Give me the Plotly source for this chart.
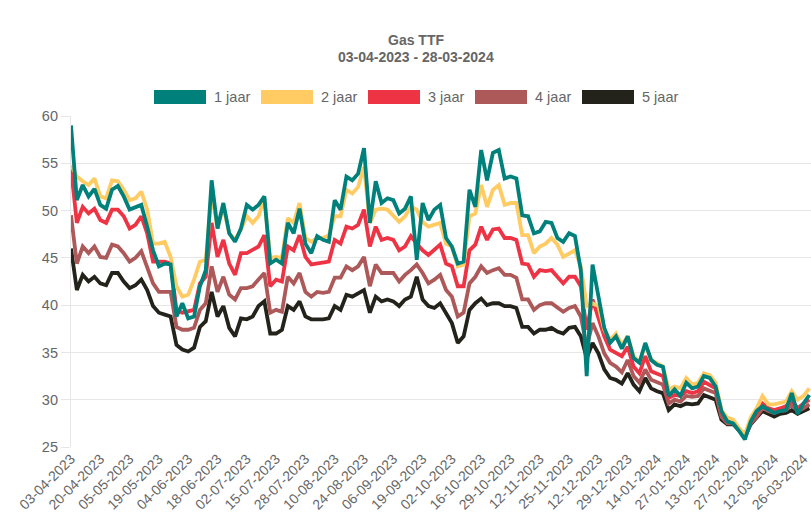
import plotly.graph_objects as go

# ---------------- data ----------------
tick_labels = ["03-04-2023", "20-04-2023", "05-05-2023", "19-05-2023", "04-06-2023",
               "18-06-2023", "02-07-2023", "15-07-2023", "28-07-2023", "10-08-2023",
               "24-08-2023", "06-09-2023", "19-09-2023", "02-10-2023", "16-10-2023",
               "29-10-2023", "12-11-2023", "25-11-2023", "12-12-2023", "29-12-2023",
               "14-01-2024", "27-01-2024", "13-02-2024", "27-02-2024", "12-03-2024",
               "26-03-2024"]
points_per_label = 5

jaar1 = [59.0, 51.1, 52.7, 51.5, 52.3, 50.6, 50.2, 52.2, 52.6, 51.5,
         50.1, 50.4, 50.6, 48.3, 45.8, 44.1, 44.4, 44.3, 38.8, 40.2,
         38.6, 38.8, 42.0, 43.7, 53.2, 48.1, 50.8, 47.6, 46.7, 48.1,
         50.6, 50.1, 50.6, 51.5, 44.4, 44.8, 44.4, 48.7, 47.6, 50.2,
         46.5, 45.5, 47.3, 46.9, 46.7, 51.1, 50.1, 53.6, 53.2, 53.9,
         56.6, 48.7, 53.1, 50.8, 51.3, 51.1, 49.7, 50.2, 51.5, 44.8,
         50.8, 49.0, 50.1, 50.6, 47.1, 46.2, 44.4, 44.6, 52.2, 50.4,
         56.4, 53.2, 56.1, 56.4, 53.4, 53.6, 53.4, 49.5, 49.4, 47.6,
         47.8, 48.8, 48.7, 47.1, 46.7, 47.6, 47.3, 43.7, 32.5, 44.3,
         40.9, 37.6, 36.0, 36.7, 35.4, 36.7, 34.4, 33.9, 36.0, 34.2,
         33.7, 33.5, 30.4, 31.1, 30.4, 31.8, 31.2, 31.4, 32.5, 32.3,
         31.4, 28.8, 27.7, 27.5, 26.7, 25.8, 27.7, 28.8, 29.3, 28.9,
         28.6, 28.8, 28.9, 30.7, 28.5, 29.6, 30.5]

jaar2 = [54.8, 53.6, 53.1, 52.7, 53.4, 51.5, 51.3, 53.2, 53.1, 52.2,
         51.1, 51.3, 52.0, 50.1, 46.5, 46.5, 46.7, 45.1, 42.0, 40.9,
         41.1, 42.7, 44.6, 44.8, 51.8, 48.1, 50.4, 47.6, 46.9, 48.0,
         49.4, 48.7, 49.4, 51.3, 45.0, 45.1, 45.0, 49.2, 48.7, 50.8,
         47.1, 46.7, 47.1, 47.1, 47.4, 49.4, 49.4, 52.2, 51.8, 52.5,
         54.6, 48.7, 50.1, 50.2, 50.1, 49.4, 48.8, 49.4, 50.4, 50.1,
         48.8, 48.3, 48.5, 48.7, 46.5, 46.2, 44.1, 44.3, 49.4, 49.7,
         52.7, 50.4, 52.2, 52.7, 50.6, 50.8, 50.8, 47.4, 47.4, 45.5,
         46.2, 46.5, 47.1, 46.4, 45.1, 45.5, 45.8, 44.1, 39.9, 40.2,
         39.9, 37.4, 36.3, 37.0, 35.8, 36.7, 34.6, 34.0, 35.8, 34.2,
         33.9, 33.5, 31.1, 31.4, 31.2, 32.3, 31.6, 31.8, 32.8, 32.6,
         31.8, 28.9, 28.1, 27.9, 27.0, 26.3, 28.1, 29.1, 30.4, 29.5,
         29.5, 29.6, 29.8, 30.9, 30.0, 30.4, 31.2]

jaar3 = [54.5, 48.7, 50.4, 49.7, 50.2, 49.0, 48.7, 50.1, 50.1, 49.4,
         48.1, 48.5, 49.4, 47.6, 44.6, 44.6, 44.6, 44.4, 39.5, 39.2,
         39.3, 39.5, 42.3, 43.0, 48.7, 45.1, 46.9, 44.4, 43.2, 45.5,
         45.5, 45.8, 46.2, 47.4, 42.0, 42.7, 42.5, 46.2, 45.8, 47.4,
         45.1, 44.3, 44.4, 44.4, 44.6, 46.9, 46.5, 48.3, 48.1, 48.5,
         50.1, 46.2, 48.3, 46.9, 47.1, 46.9, 45.8, 46.2, 47.3, 46.5,
         45.8, 45.3, 45.8, 46.4, 44.4, 44.1, 42.0, 42.0, 45.8, 46.4,
         48.3, 46.9, 48.0, 48.1, 47.1, 47.1, 46.9, 44.4, 44.3, 43.0,
         43.7, 43.6, 43.7, 43.0, 42.3, 43.0, 43.0, 42.0, 37.4, 40.6,
         38.8, 36.7, 35.3, 34.9, 34.6, 35.6, 33.5, 32.8, 34.6, 33.0,
         32.8, 32.5, 30.2, 30.5, 30.4, 30.9, 30.7, 30.9, 31.9, 31.6,
         31.2, 28.6, 27.9, 27.7, 26.8, 26.3, 27.7, 28.6, 29.6, 29.1,
         28.9, 29.1, 29.3, 30.0, 29.1, 29.6, 30.0]

jaar4 = [49.5, 44.4, 46.2, 45.5, 46.2, 45.1, 45.0, 46.4, 46.2, 45.5,
         44.6, 45.0, 45.7, 44.1, 42.3, 41.4, 41.4, 41.4, 37.7, 37.4,
         37.4, 37.6, 39.5, 40.2, 44.1, 41.4, 43.0, 41.1, 40.6, 41.8,
         41.8, 42.0, 42.7, 43.4, 39.2, 39.5, 39.3, 43.0, 42.3, 43.4,
         41.4, 40.9, 41.4, 41.3, 41.4, 42.9, 42.9, 44.1, 43.7, 44.1,
         45.1, 42.0, 44.3, 43.4, 43.4, 43.4, 42.5, 43.2, 43.7, 44.3,
         43.4, 42.3, 42.7, 43.2, 41.6, 40.9, 38.8, 39.2, 42.3, 43.0,
         44.1, 43.4, 43.7, 43.9, 43.2, 43.2, 42.9, 40.6, 40.6, 39.5,
         40.0, 40.2, 40.2, 39.7, 39.3, 39.7, 39.9, 38.8, 35.6, 38.1,
         36.7, 34.9, 33.9, 33.5, 32.9, 34.2, 32.5, 31.8, 33.2, 32.1,
         31.8, 31.6, 29.6, 30.0, 29.8, 30.4, 30.3, 30.4, 31.2, 30.9,
         30.7, 28.2, 27.5, 27.5, 26.8, 26.3, 27.5, 28.2, 29.1, 28.8,
         28.6, 28.8, 28.9, 29.5, 28.8, 29.1, 29.5]

jaar5 = [46.0, 41.6, 43.2, 42.5, 43.0, 42.3, 42.1, 43.4, 43.4, 42.5,
         41.8, 42.1, 42.7, 41.6, 39.9, 39.2, 39.0, 38.8, 35.8, 35.3,
         35.1, 35.5, 37.7, 38.3, 41.4, 38.8, 39.9, 37.6, 36.7, 38.6,
         38.5, 38.8, 39.9, 40.4, 37.0, 37.0, 37.4, 39.9, 39.5, 40.4,
         38.8, 38.5, 38.5, 38.5, 38.6, 39.9, 39.5, 41.1, 40.9, 41.3,
         41.6, 39.2, 40.9, 40.4, 40.6, 40.4, 39.9, 40.6, 40.9, 43.0,
         40.6, 39.9, 39.7, 40.2, 39.2, 38.1, 36.0, 36.7, 39.5, 40.2,
         40.7, 40.0, 40.2, 40.2, 39.9, 39.9, 39.7, 37.7, 37.7, 37.0,
         37.4, 37.4, 37.6, 37.2, 37.0, 37.6, 37.7, 36.7, 34.4, 36.0,
         34.9, 33.2, 32.3, 32.1, 31.7, 32.8, 31.6, 30.9, 32.3, 31.2,
         30.9, 30.7, 28.9, 29.5, 29.3, 29.6, 29.5, 29.6, 30.5, 30.2,
         30.0, 27.9, 27.4, 27.4, 26.7, 26.1, 27.4, 28.1, 28.8, 28.5,
         28.2, 28.5, 28.6, 28.9, 28.5, 28.8, 29.1]

series_names = ["1 jaar", "2 jaar", "3 jaar", "4 jaar", "5 jaar"]
series_values = [jaar1, jaar2, jaar3, jaar4, jaar5]
series_colors = ["#00807b", "#ffcb62", "#ee3444", "#ad5959", "#23231b"]

title_text = "Gas TTF"
subtitle_text = "03-04-2023 - 28-03-2024"

# ---------------- layout geometry (screen pixels) ----------------
W, H = 811, 522
PL, PT, PB = 71, 116, 447
PR = W

def px_x(sx):
    return (sx - PL) / (PR - PL)

def px_y(sy):
    return 1 - (sy - PT) / (PB - PT)

x_index = list(range(len(jaar1)))
tick_vals = [k * points_per_label for k in range(len(tick_labels))]
last_tick_screen = 803.5
x_max = tick_vals[-1] * (PR - PL) / (last_tick_screen - PL)

fig = go.Figure()
for name, vals, col in reversed(list(zip(series_names, series_values, series_colors))):
    fig.add_trace(go.Scatter(
        x=x_index, y=vals, mode="lines", name=name,
        line=dict(color=col, width=3.8), showlegend=False,
        hoverinfo="x+y+name",
    ))

grid = "#e6e6e6"
txt = "#666666"
font_family = "Liberation Sans, Arial, Helvetica, sans-serif"

fig.update_layout(
    template="none",
    width=W, height=H,
    margin=dict(l=PL, r=W - PR, t=PT, b=H - PB, pad=0, autoexpand=False),
    paper_bgcolor="white", plot_bgcolor="white",
    font=dict(family=font_family, color=txt, size=14),
    xaxis=dict(
        range=[0, x_max],
        tickmode="array", tickvals=tick_vals, ticktext=tick_labels,
        tickangle=-45, tickfont=dict(size=14, color=txt),
        showgrid=False, zeroline=False, automargin=False,
        showline=False, ticks="", ticklen=0, ticklabeloverflow="allow",
    ),
    yaxis=dict(
        range=[25, 60], tickmode="array", tickvals=[25, 30, 35, 40, 45, 50, 55, 60],
        showgrid=True, gridcolor=grid, gridwidth=1.2, automargin=False,
        zeroline=False, showline=True, linecolor=grid, linewidth=1.2,
        ticks="outside", ticklen=9, tickcolor=grid, tickwidth=1.2,
        tickfont=dict(size=14.5, color=txt),
    ),
    hovermode="closest",
)

# title (two lines)
fig.add_annotation(text="<b>%s</b>" % title_text, xref="paper", yref="paper",
                   x=px_x(416), y=px_y(39.5), xanchor="center", yanchor="middle",
                   showarrow=False, font=dict(size=14, color=txt, family=font_family))
fig.add_annotation(text="<b>%s</b>" % subtitle_text, xref="paper", yref="paper",
                   x=px_x(416), y=px_y(56.5), xanchor="center", yanchor="middle",
                   showarrow=False, font=dict(size=14, color=txt, family=font_family))

# custom legend (boxes + labels)
box_left = 154.0
box_w, box_h = 52.0, 14.0
item_step = 107.0
leg_cy = 97.0
for k, (name, col) in enumerate(zip(series_names, series_colors)):
    x0 = box_left + k * item_step
    fig.add_shape(type="rect", xref="paper", yref="paper",
                  x0=px_x(x0), x1=px_x(x0 + box_w),
                  y0=px_y(leg_cy + box_h / 2), y1=px_y(leg_cy - box_h / 2),
                  fillcolor=col, line=dict(width=0))
    fig.add_annotation(text=name, xref="paper", yref="paper",
                       x=px_x(x0 + box_w + 6), y=px_y(leg_cy),
                       xanchor="left", yanchor="middle", showarrow=False,
                       font=dict(size=14.5, color=txt, family=font_family))

fig.write_html(
    "out.html",
    config={"displayModeBar": False},
    post_script="document.body.style.margin='0';document.body.style.overflow='hidden';",
)
